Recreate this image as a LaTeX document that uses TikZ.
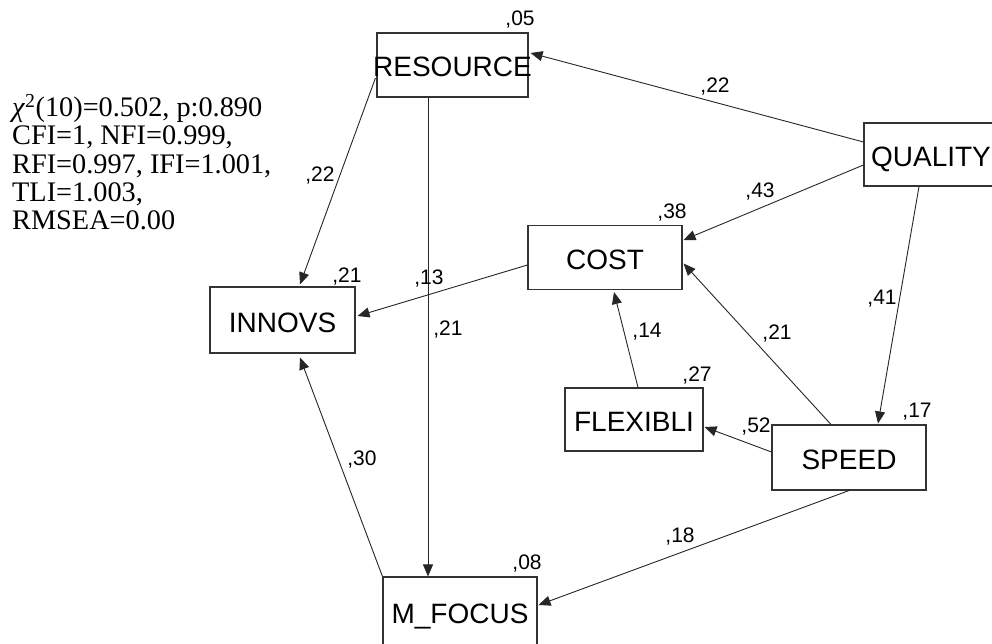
\documentclass[tikz,border=0pt]{standalone}
\usepackage{fontspec}
\setmainfont{Liberation Serif}
\setsansfont{Liberation Sans}
\usetikzlibrary{arrows.meta,calc}
\begin{document}
\begin{tikzpicture}[x=1pt,y=-1pt,
  box/.style={draw=black!80, line width=1.1pt, rectangle, inner sep=0pt,
    minimum height=64pt, font=\sffamily\fontsize{28}{28}\selectfont,
    text height=24pt, text depth=0pt},
  lab/.style={inner sep=0pt, font=\sffamily\fontsize{21}{21}\selectfont,
    text height=15pt, text depth=0pt},
  fitline/.style={inner sep=0pt, anchor=base west, font=\rmfamily\fontsize{28.3}{28.3}\selectfont},
  conn/.style={draw=black!85, line width=0.9pt, -{Triangle[length=12pt,width=10pt]}}
]
\useasboundingbox (0,0) rectangle (992,644);
\fill[white] (0,0) rectangle (992,644);

% boxes
\node[box, minimum width=151pt] (res) at (452.5,65) {\makebox[0pt]{RESOURCE}};
\node[box, minimum width=145pt, minimum height=66pt] (inn) at (282.5,320) {\makebox[0pt]{INNOVS}};
\node[box, minimum width=154pt] (cost) at (605,257.5) {\makebox[0pt]{COST}};
\node[box, minimum width=134pt, minimum height=63pt] (qual) at (931,154.5) {\makebox[0pt]{QUALITY}};
\node[box, minimum width=138pt, minimum height=63pt] (flex) at (634,419.5) {\makebox[0pt]{FLEXIBLI}};
\node[box, minimum width=154pt, minimum height=65pt] (speed) at (849,457.5) {\makebox[0pt]{SPEED}};
\node[box, minimum width=154pt, minimum height=68pt] (mf) at (460,611) {\makebox[0pt]{M\_FOCUS}};

% fit statistics
\node[fitline] (fit1) at (12,116.5) {\textit{χ}\textsuperscript{2}(10)=0.502, p:0.890};
\node[fitline] (fit2) at (12,144.8) {CFI=1, NFI=0.999,};
\node[fitline] (fit3) at (12,173.1) {RFI=0.997, IFI=1.001,};
\node[fitline] (fit4) at (12,201.4) {TLI=1.003,};
\node[fitline] (fit5) at (12,229.7) {RMSEA=0.00};

% connectors
\draw[conn] ([yshift=12.5pt]qual.west) -- ([yshift=12pt,xshift=2pt]res.east);
\draw[conn] ([yshift=-10.5pt]qual.west) -- ([yshift=17.5pt,xshift=1pt]cost.east);
\draw[conn] ([xshift=-12pt]qual.south) -- ([xshift=29pt,yshift=1pt]speed.north);
\draw[conn] ([yshift=-13pt,xshift=-1pt]res.west) -- ([xshift=17.5pt,yshift=2pt]inn.north);
\draw[conn] ([xshift=-24.5pt]res.south) -- ([xshift=-32pt]mf.north);
\draw[conn] ([yshift=-7.5pt]cost.west) -- ([yshift=4pt,xshift=2pt]inn.east);
\draw[conn] (mf.north west) -- ([xshift=17.5pt,yshift=-4pt]inn.south);
\draw[conn] (speed.south) -- ([yshift=6pt,xshift=1pt]mf.east);
\draw[conn] ([xshift=-18pt]speed.north) -- ([yshift=-6pt,xshift=1pt]cost.east);
\draw[conn] ([yshift=5.5pt]speed.west) -- ([yshift=-7.5pt,xshift=1pt]flex.east);
\draw[conn] ([xshift=4pt]flex.north) -- ([xshift=9pt,yshift=-2pt]cost.south);

% path coefficients
\node[lab] (pqr) at (715,85) {,22};
\node[lab] (pqc) at (760,190) {,43};
\node[lab] (pqs) at (882,297) {,41};
\node[lab] (pri) at (320,174) {,22};
\node[lab] (pci) at (429,277) {,13};
\node[lab] (prm) at (448,328) {,21};
\node[lab] (pmi) at (362,458) {,30};
\node[lab] (psm) at (680,535) {,18};
\node[lab] (psc) at (777,332) {,21};
\node[lab] (psf) at (756,425) {,52};
\node[lab] (pfc) at (647,330) {,14};

% squared multiple correlations
\node[lab] (vres) at (520,18) {,05};
\node[lab] (vinn) at (347,275) {,21};
\node[lab] (vcost) at (672,211) {,38};
\node[lab] (vflex) at (697,374) {,27};
\node[lab] (vspeed) at (917,410) {,17};
\node[lab] (vmf) at (527,562) {,08};
\end{tikzpicture}
\end{document}
